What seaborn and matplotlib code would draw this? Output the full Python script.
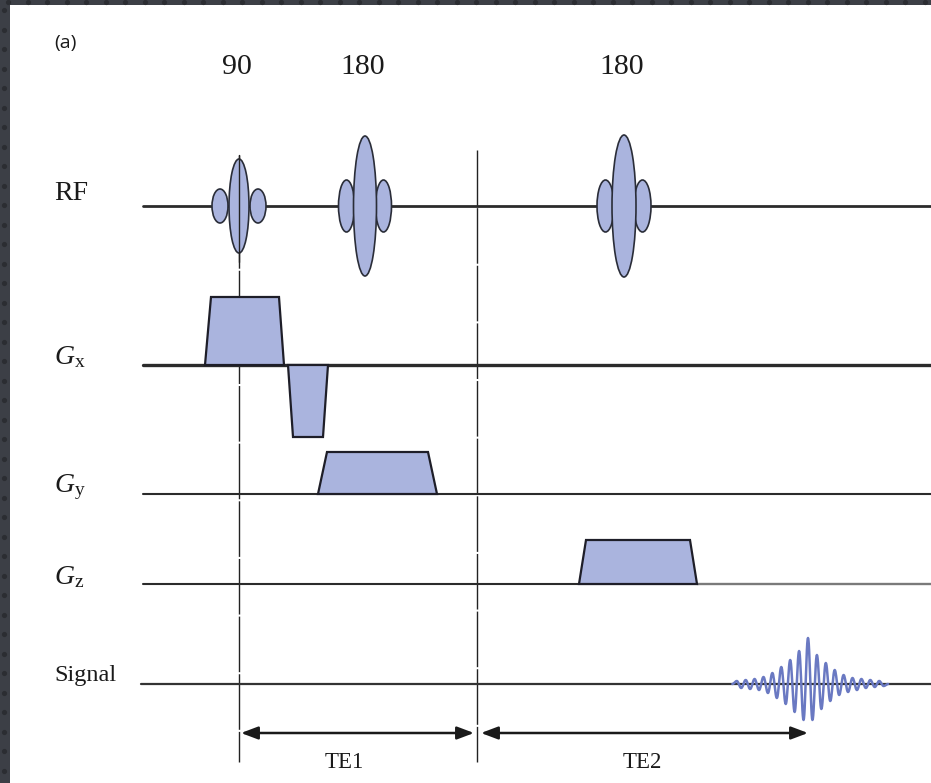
import numpy as np
import pandas as pd
import matplotlib
matplotlib.use("Agg")
import matplotlib.pyplot as plt
from matplotlib.patches import Ellipse, Polygon, Rectangle
import seaborn as sns

sns.set_theme(style="white")
plt.rcParams['font.family'] = ['Liberation Serif', 'DejaVu Serif']
plt.rcParams['mathtext.fontset'] = 'custom'
plt.rcParams['mathtext.rm'] = 'Liberation Serif'
plt.rcParams['mathtext.it'] = 'Liberation Serif:italic'

# ---------------- data (time axis in diagram units, amplitudes in diagram units) -------------
row_names = ["RF", r"$G_{\mathrm{x}}$", r"$G_{\mathrm{y}}$", r"$G_{\mathrm{z}}$", "Signal"]
row_baseline = [206, 365, 494, 584, 684]

rf_labels = ["90", "180", "180"]
rf_centers = [239, 365, 624]
rf_main_half_height = [47, 70, 71]
rf_main_half_width = [10, 11.5, 12]
rf_side_offset = [19, 18.5, 18.5]
rf_side_half_width = [8, 8, 8.5]
rf_side_half_height = [17, 26, 26]

# gradient lobes: (row index, start, flat start, flat end, end, amplitude)
grad_row = [1, 1, 2, 3]
grad_t0 = [205, 288, 318, 579]
grad_t1 = [211, 293, 327, 586]
grad_t2 = [279, 323, 428, 690]
grad_t3 = [284, 328, 437, 697]
grad_amp = [68, -72, 42, 44]

# echo signal: alternating extrema amplitudes
sig_start = 736.8
sig_step = 4.45
sig_extrema = [3, -4, 4, -5, 5, -6, 7, -9, 11, -14, 17, -20, 24, -28, 33, -36, 46,
               -36, 29, -25, 21, -17, 14, -11, 9, -8, 6, -6, 5, -4, 4, -3, 3, -2]

te_marks = [239, 477, 808]
te_labels = ["TE1", "TE2"]

# ---------------- figure ----------------
W, H = 931, 783
fig = plt.figure(figsize=(W / 100, H / 100), dpi=100)
ax = fig.add_axes([0, 0, 1, 1])
ax.set_xlim(0, W)
ax.set_ylim(H, 0)
ax.axis("off")
fig.patch.set_facecolor("#3c3f46")

# white page
ax.add_patch(Rectangle((10, 5), W - 10, H - 5, facecolor="white", edgecolor="none", zorder=0))
# dotted dark border texture
dx = np.arange(8, W, 19.5)
ax.scatter(dx, np.full_like(dx, 1.5), s=14, color="#2b2d32", marker="o", linewidths=0, zorder=0.5)
dy = np.arange(10, H, 19.5)
ax.scatter(np.full_like(dy, 3.5), dy, s=14, color="#2b2d32", marker="o", linewidths=0, zorder=0.5)

fill = "#aab4de"
edge = "#2a2d38"

# baselines
base_lw = [2.0, 2.4, 1.5, 1.5, 1.6]
base_start = [143, 143, 143, 143, 141]
for i, (name, yb) in enumerate(zip(row_names, row_baseline)):
    df = pd.DataFrame({"t": [base_start[i], W], "y": [yb, yb]})
    col = "#2b2b2b" if i != 4 else "#333333"
    sns.lineplot(data=df, x="t", y="y", ax=ax, color=col, lw=base_lw[i], sort=False,
                 estimator=None, zorder=2)
# grey tail on Gz after lobe
sns.lineplot(x=[697, W], y=[row_baseline[3]] * 2, ax=ax, color="#7a7a7a", lw=1.6,
             estimator=None, zorder=2.1)

# row labels
label_size = [20, 20, 20, 20, 17.5]
label_off = [-13, -8, -7, -7, -8]
for i, (name, yb) in enumerate(zip(row_names, row_baseline)):
    ax.text(54, yb + label_off[i], name, fontsize=label_size[i], ha="left", va="center",
            color="#1a1a1a", zorder=5)

# vertical dashed lines
ax.plot([239, 239], [155, 762], color="#222222", lw=1.0, dashes=(40, 1.5), zorder=1)
ax.plot([477, 477], [150, 762], color="#222222", lw=1.0, dashes=(40, 1.5), zorder=1)

# RF pulses
yb = row_baseline[0]
for c, lab, mh, mw, so, sw, sh in zip(rf_centers, rf_labels, rf_main_half_height,
                                      rf_main_half_width, rf_side_offset,
                                      rf_side_half_width, rf_side_half_height):
    for xc in (c - so, c + so):
        ax.add_patch(Ellipse((xc, yb), 2 * sw, 2 * sh, facecolor=fill, edgecolor=edge,
                             lw=1.2, zorder=3))
    ax.add_patch(Ellipse((c, yb), 2 * mw, 2 * mh, facecolor=fill, edgecolor=edge,
                         lw=1.2, zorder=3.5))
    ax.text(c - 2, 67, lab, fontsize=21.5, ha="center", va="center", color="#1a1a1a")
# dashed line over 90 pulse
ax.plot([239, 239], [155, 262], color="#222222", lw=1.0, zorder=4)

# gradient lobes
for r, t0, t1, t2, t3, a in zip(grad_row, grad_t0, grad_t1, grad_t2, grad_t3, grad_amp):
    yb = row_baseline[r]
    pts = [(t0, yb), (t1, yb - a), (t2, yb - a), (t3, yb)]
    ax.add_patch(Polygon(pts, closed=True, facecolor=fill, edgecolor="#1e1e28",
                         lw=1.6, joinstyle="miter", zorder=3))

# echo signal
ext_t = sig_start + sig_step * np.arange(len(sig_extrema))
knots_t = np.concatenate([[ext_t[0] - sig_step], ext_t, [ext_t[-1] + sig_step]])
knots_a = np.concatenate([[0], sig_extrema, [0]])
ts, ys = [], []
for k in range(len(knots_t) - 1):
    u = np.linspace(0, 1, 12, endpoint=False)
    ts.append(knots_t[k] + u * (knots_t[k + 1] - knots_t[k]))
    ys.append(knots_a[k] + (knots_a[k + 1] - knots_a[k]) * (1 - np.cos(np.pi * u)) / 2)
ts.append([knots_t[-1]])
ys.append([0])
sig_df = pd.DataFrame({"t": np.concatenate(ts), "y": row_baseline[4] - np.concatenate(ys)})
sns.lineplot(data=sig_df, x="t", y="y", ax=ax, color="#6a79c2", lw=1.8, sort=False,
             estimator=None, zorder=4)

# TE arrows
ay = 733
spans = [(te_marks[0] + 2, te_marks[1] - 3), (te_marks[1] + 4, te_marks[2])]
for (l, r), lab in zip(spans, te_labels):
    ax.annotate("", xy=(r, ay), xytext=(l, ay),
                arrowprops=dict(arrowstyle="<|-|>,head_length=0.85,head_width=0.32",
                                color="#1a1a1a", lw=1.8, shrinkA=0, shrinkB=0), zorder=4)
te_text_x = [344, 642]
for x, lab in zip(te_text_x, te_labels):
    ax.text(x, 763, lab, fontsize=16.5, ha="center", va="center", color="#1a1a1a")

# panel tag
ax.text(54, 43, "(a)", fontsize=14, ha="left", va="center", color="#1a1a1a",
        family=["Open Sans", "DejaVu Sans"])

sns.despine(ax=ax, left=True, bottom=True)
fig.savefig("out.png", dpi=100, facecolor=fig.get_facecolor())
